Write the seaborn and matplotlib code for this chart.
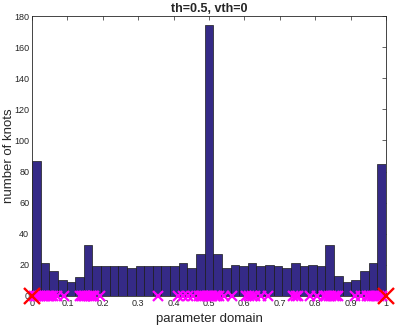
import numpy as np
import pandas as pd
import seaborn as sns
import matplotlib
matplotlib.use("Agg")
import matplotlib.pyplot as plt

# histogram counts per bin (41 bins over [0, 1])
n_bins = 41
counts = [87, 21, 16, 10, 9, 12, 33, 19, 19, 19, 19, 18, 19, 19, 19, 19, 19, 21, 18, 27,
          174,
          27, 18, 20, 19, 21, 19, 20, 19, 18, 21, 19, 20, 19, 33, 13, 9, 10, 16, 21, 85]

# interior knots (magenta) and end knots (red)
inner_knots = [0.006, 0.012, 0.018, 0.024, 0.030, 0.036, 0.042, 0.048, 0.054, 0.060, 0.072, 0.090,
               0.136, 0.141, 0.146, 0.151, 0.156, 0.161, 0.166, 0.171, 0.176, 0.192,
               0.357, 0.412, 0.428, 0.442, 0.456, 0.472, 0.478, 0.484, 0.490, 0.495,
               0.500, 0.505, 0.510, 0.516, 0.522, 0.528, 0.542, 0.564,
               0.606, 0.614, 0.622, 0.630, 0.648, 0.668,
               0.738, 0.745, 0.752, 0.786, 0.804,
               0.824, 0.831, 0.838, 0.845, 0.852, 0.859, 0.866,
               0.912, 0.931, 0.946, 0.953, 0.960, 0.967, 0.974, 0.981, 0.990]
end_knots = [0.0, 1.0]

# bin centres, one row per bin, weighted by its count
df = pd.DataFrame({"pos": (np.arange(n_bins) + 0.5) / n_bins, "count": counts})

sns.set_style("white")
plt.rcParams["font.family"] = ["Liberation Sans", "DejaVu Sans"]

fig = plt.figure(figsize=(3.95, 3.27), dpi=100)
ax = fig.add_axes([0.081, 0.095, 0.896, 0.856])

sns.histplot(data=df, x="pos", weights="count", bins=n_bins, binrange=(0, 1), ax=ax,
             color="#352a87", alpha=1.0, edgecolor="#1a1a1a", linewidth=0.5)

ax.plot(inner_knots, np.zeros(len(inner_knots)), "x", color="#ff00ff",
        markersize=7, markeredgewidth=1.6, clip_on=False, zorder=5)
ax.plot(end_knots, np.zeros(len(end_knots)), "x", color="#ff0000",
        markersize=12, markeredgewidth=1.7, clip_on=False, zorder=6)

ax.set_xlim(0, 1)
ax.set_ylim(0, 180)
ax.set_xticks(np.arange(0, 1.01, 0.1))
ax.set_xticklabels(["0", "0.1", "0.2", "0.3", "0.4", "0.5", "0.6", "0.7", "0.8", "0.9", "1"])
ax.set_yticks(np.arange(0, 181, 20))
ax.tick_params(direction="in", length=3, width=0.5, colors="#262626", labelsize=6.5,
               top=True, right=True, pad=2)
for s in ax.spines.values():
    s.set_color("#262626")
    s.set_linewidth(0.6)

ax.set_xlabel("parameter domain", fontsize=9.5, color="#262626")
ax.xaxis.set_label_coords(0.5, -0.084, transform=ax.transAxes)
ax.xaxis.label.set_va("center")
ax.set_ylabel("number of knots", fontsize=9.5, color="#262626")
ax.yaxis.set_label_coords(-0.065, 0.5, transform=ax.transAxes)
ax.yaxis.label.set_va("center")
ax.set_title("th=0.5, vth=0", fontsize=9, fontweight="bold", pad=3)

fig.savefig("out.png", dpi=100)
